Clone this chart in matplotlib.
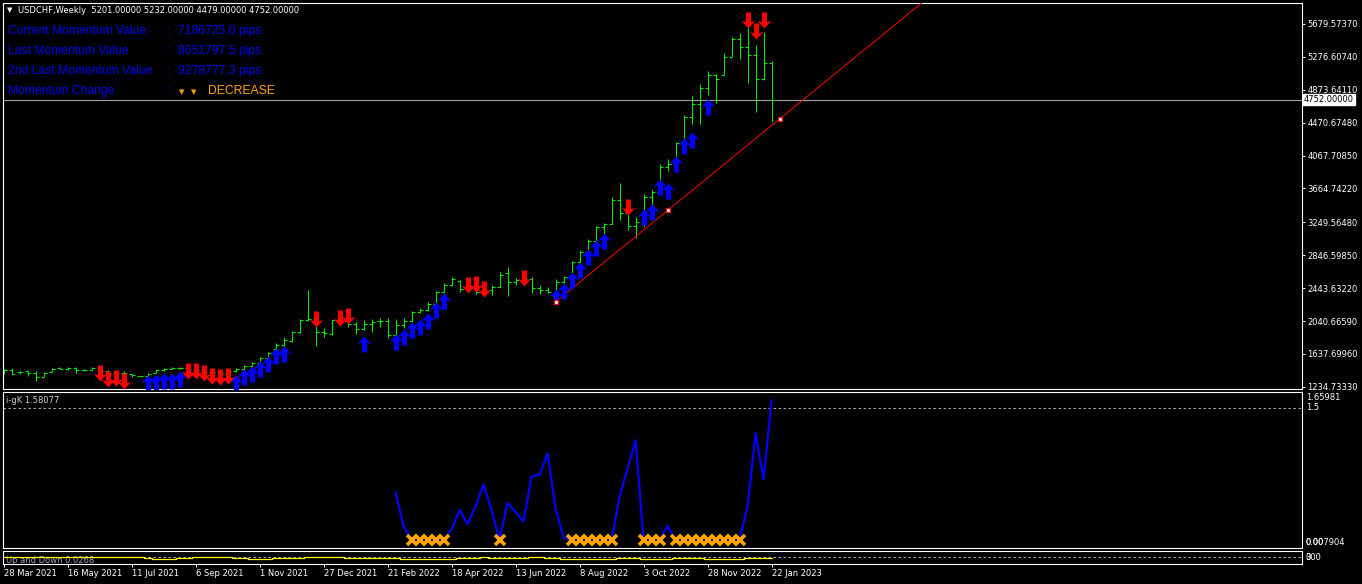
import numpy as np
import matplotlib
matplotlib.use("Agg")
import matplotlib.pyplot as plt
from matplotlib.path import Path
from matplotlib.transforms import blended_transform_factory

# ---- weekly bars (price values) ----
opens = [1445, 1440, 1412, 1425, 1400, 1351, 1413, 1462, 1458, 1462, 1441, 1441, 1470, 1425, 1400, 1405,
         1388, 1368, 1370, 1400, 1445, 1458, 1462, 1470, 1450, 1440, 1420, 1415, 1410, 1425, 1450, 1495,
         1530, 1590, 1700, 1746, 1800, 1905, 2050, 2060, 1910, 1880, 2050, 2040, 2000, 1940, 2000, 2040,
         2040, 1870, 1990, 2040, 2150, 2170, 2250, 2400, 2480, 2530, 2430, 2470, 2400, 2420, 2460, 2630,
         2520, 2540, 2560, 2440, 2420, 2350, 2520, 2580, 2760, 2890, 3020, 3190, 3230, 3520, 3360, 3200,
         3250, 3560, 3620, 3930, 3960, 4220, 4540, 4700, 4900, 5060, 5060, 5280, 5500, 5400, 5300, 5000,
         5201]
highs = [1453, 1462, 1430, 1430, 1430, 1413, 1462, 1474, 1474, 1474, 1453, 1474, 1482, 1440, 1420, 1425,
         1388, 1372, 1400, 1450, 1462, 1474, 1482, 1503, 1482, 1474, 1450, 1441, 1441, 1462, 1503, 1543,
         1596, 1666, 1776, 1850, 1919, 2066, 2421, 2155, 1952, 2054, 2135, 2184, 2025, 2054, 2066, 2074,
         2074, 2062, 2074, 2164, 2200, 2268, 2409, 2503, 2576, 2540, 2503, 2482, 2503, 2482, 2637, 2699,
         2564, 2580, 2576, 2482, 2454, 2556, 2592, 2776, 2911, 3042, 3205, 3246, 3556, 3728, 3524, 3319,
         3597, 3646, 3965, 4022, 4238, 4565, 4798, 4945, 5104, 5070, 5320, 5524, 5565, 5655, 5422, 5585,
         5232]
lows = [1390, 1392, 1388, 1368, 1310, 1351, 1413, 1450, 1441, 1400, 1430, 1441, 1420, 1360, 1370, 1375,
        1360, 1362, 1360, 1400, 1433, 1450, 1450, 1441, 1420, 1400, 1400, 1392, 1400, 1420, 1441, 1482,
        1525, 1585, 1686, 1740, 1788, 1900, 2040, 1735, 1850, 1875, 2013, 1972, 1882, 1935, 1911, 1972,
        1837, 1865, 1960, 2035, 2145, 2165, 2245, 2395, 2475, 2400, 2420, 2372, 2360, 2360, 2455, 2352,
        2482, 2530, 2380, 2372, 2380, 2274, 2503, 2575, 2755, 2885, 3015, 3107, 3225, 3278, 3156, 3054,
        3197, 3401, 3615, 3883, 3883, 4215, 4455, 4455, 4810, 4716, 5055, 5271, 5251, 4961, 4606, 4995,
        4479]
closes = [1440, 1395, 1412, 1400, 1360, 1408, 1455, 1455, 1462, 1445, 1437, 1466, 1430, 1400, 1405, 1400,
          1375, 1370, 1396, 1445, 1458, 1462, 1470, 1450, 1440, 1420, 1415, 1410, 1425, 1450, 1495, 1530,
          1590, 1655, 1746, 1805, 1905, 2050, 2060, 1910, 1900, 2050, 2040, 2000, 1940, 2000, 2030, 2040,
          1870, 1990, 2040, 2150, 2170, 2250, 2400, 2480, 2550, 2430, 2470, 2400, 2420, 2460, 2600, 2520,
          2540, 2560, 2440, 2420, 2400, 2520, 2580, 2760, 2890, 3020, 3190, 3230, 3520, 3360, 3200, 3250,
          3560, 3620, 3930, 3960, 4220, 4540, 4700, 4900, 5060, 5000, 5280, 5500, 5400, 5300, 5000, 5201,
          4752]

# ---- signal arrows ----
sell_idx = [12, 13, 14, 15, 23, 24, 25, 26, 27, 28, 39, 42, 43, 58, 59, 60, 65, 78, 93, 94, 95]
sell_px = [1404, 1331, 1343, 1306, 1429, 1429, 1404, 1367, 1355, 1367, 2066, 2078, 2103, 2482, 2495,
           2433, 2568, 3438, 5729, 5594, 5729]
buy_idx = [18, 19, 20, 21, 22, 29, 30, 31, 32, 33, 34, 35, 45, 49, 50, 51, 52, 53, 54, 55, 69, 70, 71,
           72, 73, 74, 75, 80, 81, 82, 83, 84, 85, 86, 88]
buy_px = [1282, 1294, 1306, 1306, 1331, 1282, 1355, 1392, 1453, 1515, 1613, 1637, 1760, 1784, 1845, 1931,
          1968, 2041, 2176, 2286, 2335, 2409, 2544, 2666, 2825, 2936, 3021, 3315, 3376, 3683, 3634, 3965,
          4185, 4259, 4663]

# trend line anchors
trend_idx = [69, 83, 97]
trend_px = [2274, 3401, 4516]

price_ticks = [5679.57370, 5276.60740, 4873.64110, 4470.67480, 4067.70850, 3664.74220, 3249.56480,
               2846.59850, 2443.63220, 2040.66590, 1637.69960, 1234.73330]
last_price = 4752.0

# ---- i-gK indicator ----
igk_idx = list(range(49, 97))
igk_val = [0.54, 0.16, 0.0, 0.0, 0.0, 0.0, 0.0, 0.12, 0.34, 0.18, 0.38, 0.63, 0.34, 0.0, 0.42, 0.32,
           0.21, 0.72, 0.74, 0.98, 0.36, 0.03, 0.0, 0.0, 0.0, 0.0, 0.0, 0.0, 0.49, 0.81, 1.13, 0.0,
           0.0, 0.0, 0.16, 0.0, 0.0, 0.0, 0.0, 0.0, 0.0, 0.0, 0.0, 0.0, 0.38, 1.21, 0.69, 1.58077]
cross_idx = [51, 52, 53, 54, 55, 62, 71, 72, 73, 74, 75, 76, 80, 81, 82, 84, 85, 86, 87, 88, 89, 90, 91, 92]

# ---- Up and Down panel (3 = up, 2 = mid, 1 = down) ----
updown = [3] * 18 + [2, 1, 1, 1, 2, 2, 3, 3, 3, 3, 3, 2, 2, 1, 1, 1, 2, 2, 2, 2, 3, 3, 3, 3, 3,
          2, 2, 2, 2, 2, 2, 2, 1, 1, 1, 1, 1, 1, 1, 2, 2, 2, 3, 2, 2, 2, 2, 2, 3, 3, 2, 2,
          1, 1, 1, 1, 1, 1, 1, 2, 2, 2, 1, 1, 1, 1, 2, 2, 2, 2, 1, 1, 1, 1, 1, 2, 2, 2, 2]

date_labels = ["28 Mar 2021", "16 May 2021", "11 Jul 2021", "6 Sep 2021", "1 Nov 2021", "27 Dec 2021",
               "21 Feb 2022", "18 Apr 2022", "13 Jun 2022", "8 Aug 2022", "3 Oct 2022", "28 Nov 2022",
               "22 Jan 2023"]
date_ticks = list(range(0, 97, 8))

W, H = 1362, 584
fig = plt.figure(figsize=(W / 100, H / 100), dpi=100, facecolor="black")


def rect(x0, y0, x1, y1):
    return [x0 / W, 1 - y1 / H, (x1 - x0) / W, (y1 - y0) / H]


def ftext(x, y, s, **kw):
    fig.text(x / W, 1 - y / H, s, va="center", ha="left", **kw)


ax = fig.add_axes(rect(2.5, 3, 1302, 389))
ax2 = fig.add_axes(rect(2.5, 392, 1302, 548))
ax3 = fig.add_axes(rect(2.5, 551, 1302, 563.5))
xlim = (-0.125, 162.3)
for a in (ax, ax2, ax3):
    a.set_facecolor("black")
    a.set_xlim(*xlim)
    for sp in a.spines.values():
        sp.set_color("white")
        sp.set_linewidth(0.8)
    a.tick_params(colors="white", labelcolor="white", labelsize=6, length=2.2, width=0.7, pad=1.5)

# ---- main price panel ----
idx = np.arange(len(closes))
green = "#00ee00"
ax.vlines(idx, lows, highs, color=green, lw=0.75)
ax.hlines(opens, idx - 0.375, idx, color=green, lw=0.75)
ax.hlines(closes, idx, idx + 0.375, color=green, lw=0.75)
ax.set_ylim(1208.3, 5936.8)
ax.axhline(last_price, color="#a0a0a0", lw=0.8, zorder=1)

# chunky wingdings-like arrow
up_verts = [(0, 1), (0.85, 0.05), (0.32, 0.22), (0.32, -1), (-0.32, -1), (-0.32, 0.22), (-0.85, 0.05), (0, 1)]
up_arrow = Path(up_verts)
down_arrow = Path([(x, -y) for x, y in up_verts])
ax.plot(buy_idx, buy_px, ls="none", marker=up_arrow, ms=11.5, color="#0000ff", mew=0, zorder=4)
ax.plot(sell_idx, sell_px, ls="none", marker=down_arrow, ms=11.5, color="#ff0000", mew=0, zorder=4)

slope = (trend_px[-1] - trend_px[0]) / (trend_idx[-1] - trend_idx[0])
tx = np.array([trend_idx[0], 118])
ax.plot(tx, trend_px[0] + slope * (tx - trend_idx[0]), color="#ff0000", lw=0.7, zorder=3)
ax.plot(trend_idx, trend_px, ls="none", marker="s", ms=3.3, mfc="white", mec="#ff0000", mew=0.9, zorder=5)

ax.yaxis.tick_right()
ax.set_yticks(price_ticks)
ax.set_yticklabels([f"{v:.5f}" for v in price_ticks])
ax.set_xticks([])
trans = blended_transform_factory(ax.transAxes, ax.transData)
ax.text(1.0015, last_price, f"{last_price:.5f}", transform=trans, color="black", fontsize=6,
        va="center", ha="left", bbox=dict(boxstyle="square,pad=0.15", fc="white", ec="white"))

# header + momentum info
ftext(7, 10.5, "▼", color="white", fontsize=5)
ftext(17.5, 10.5, "USDCHF,Weekly  5201.00000 5232.00000 4479.00000 4752.00000", color="white", fontsize=6)
blue_txt = "#0000f0"
rows = [("Current Momentum Value", "7186725.0 pips."),
        ("Last Momentum Value", "8651797.5 pips."),
        ("2nd Last Momentum Value", "9278777.3 pips."),
        ("Momentum Change", None)]
for k, (name, val) in enumerate(rows):
    yy = 31 + 20 * k
    ftext(7.5, yy, name, color=blue_txt, fontsize=8.7, family="Liberation Sans")
    ftext(167, yy, ":", color=blue_txt, fontsize=8.7, family="Liberation Sans")
    if val:
        ftext(178, yy, val, color=blue_txt, fontsize=8.7, family="Liberation Sans")
ftext(179, 92, "▼", color="#ffa500", fontsize=5)
ftext(191, 92, "▼", color="#ffa500", fontsize=5)
ftext(208, 91, "DECREASE", color="#ffa500", fontsize=8.7, family="Liberation Sans")

# ---- i-gK panel ----
ax2.set_ylim(-0.0907, 1.678)
ax2.axhline(1.5, color="#c8c8c8", lw=0.6, ls=(0, (3, 3)))
ax2.plot(igk_idx, igk_val, color="#0000ff", lw=1.6, zorder=3)
ax2.plot(cross_idx, [0] * len(cross_idx), ls="none", marker="x", ms=6.5, mew=2.6, color="#ffa500", zorder=4)
ax2.set_xticks([])
ax2.set_yticks([])
ax2.text(0.003, 0.945, "i-gK 1.58077", transform=ax2.transAxes, color="#d0d0d0", fontsize=6, va="center")
ftext(1306, 398, "1.65981", color="white", fontsize=6)
ftext(1306, 407.5, "1.5", color="white", fontsize=6)
ftext(1306, 542.5, "0.007904", color="white", fontsize=6)
ftext(1305, 542.5, "0.00", color="white", fontsize=6)

# ---- Up and Down panel ----
ax3.set_ylim(-3.2, 9.3)
ax3.axhline(3.3, color="#c8c8c8", lw=0.6, ls=(0, (3, 3)))
ax3.plot(idx, updown, color="#ffff00", lw=0.9, drawstyle="steps-mid", zorder=3)
ax3.text(0.003, 0.25, "Up and Down 0.0268", transform=ax3.transAxes, color="#a0a0c0", fontsize=6,
         va="center", zorder=2)
ax3.set_yticks([])
ftext(1305, 557.5, "300", color="white", fontsize=6)
ftext(1305, 557.5, "0", color="white", fontsize=6)
ax3.set_xticks(date_ticks)
ax3.set_xticklabels(date_labels)
for lbl in ax3.get_xticklabels():
    lbl.set_ha("left")

fig.savefig("out.png", dpi=100, facecolor="black")
